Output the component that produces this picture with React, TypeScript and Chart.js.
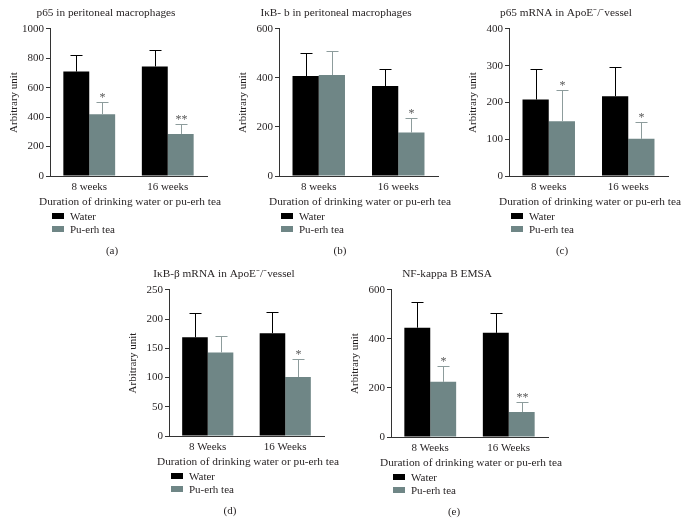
import React, { useEffect, useRef } from 'react';
import { Chart, registerables } from 'chart.js';

Chart.register(...registerables);

const FONT = "'Liberation Serif', 'Times New Roman', serif";
const TEXT = '#231f20';
const AXIS = '#333333';
const WATER = '#000000';
const TEA = '#6f8686';
const TEA_ERR = '#8d9c9c';
const MARK = '#555555';

// shared labels
const weeksLower = ['8 weeks', '16 weeks'];
const weeksUpper = ['8 Weeks', '16 Weeks'];
const seriesNames = ['Water', 'Pu-erh tea'];
const xAxisTitle = 'Duration of drinking water or pu-erh tea';
const yAxisTitle = 'Arbitrary unit';

// (a) p65 in peritoneal macrophages
const aWater = [710, 745];
const aWaterSD = [115, 112];
const aTea = [420, 286];
const aTeaSD = [80, 66];
const aMarks = ['*', '**'];

// (b) IκB-b in peritoneal macrophages
const bWater = [408, 367];
const bWaterSD = [92, 71];
const bTea = [412, 177];
const bTeaSD = [97, 60];
const bMarks = ['', '*'];

// (c) p65 mRNA in ApoE-/- vessel
const cWater = [208, 217];
const cWaterSD = [82, 80];
const cTea = [149, 101];
const cTeaSD = [84, 46];
const cMarks = ['*', '*'];

// (d) IκB-β mRNA in ApoE-/- vessel
const dWater = [169, 176];
const dWaterSD = [41, 36];
const dTea = [143, 101];
const dTeaSD = [28, 31];
const dMarks = ['', '*'];

// (e) NF-kappa B EMSA
const eWater = [446, 425];
const eWaterSD = [104, 80];
const eTea = [225, 102];
const eTeaSD = [64, 41];
const eMarks = ['*', '**'];

type PanelSpec = {
  id: string;
  title: string;
  labels: string[];
  water: number[];
  waterSD: number[];
  tea: number[];
  teaSD: number[];
  marks: string[];
  ymax: number;
  step: number;
  // layout (page pixels)
  left: number;
  right: number;
  top: number;
  bottom: number;
  titleCx: number;
  tagCx: number;
};

const panels: PanelSpec[] = [
  { id: '(a)', title: 'p65 in peritoneal macrophages', labels: weeksLower, water: aWater, waterSD: aWaterSD, tea: aTea, teaSD: aTeaSD, marks: aMarks, ymax: 1000, step: 200, left: 50, right: 207, top: 29, bottom: 176, titleCx: 124, tagCx: 112 },
  { id: '(b)', title: 'IκB- b in peritoneal macrophages', labels: weeksLower, water: bWater, waterSD: bWaterSD, tea: bTea, teaSD: bTeaSD, marks: bMarks, ymax: 600, step: 200, left: 279, right: 438, top: 29, bottom: 176, titleCx: 358, tagCx: 340 },
  { id: '(c)', title: 'p65 mRNA in ApoE⁻/⁻vessel', labels: weeksLower, water: cWater, waterSD: cWaterSD, tea: cTea, teaSD: cTeaSD, marks: cMarks, ymax: 400, step: 100, left: 509, right: 668, top: 29, bottom: 176, titleCx: 585, tagCx: 562 },
  { id: '(d)', title: 'IκB-β mRNA in ApoE⁻/⁻vessel', labels: weeksUpper, water: dWater, waterSD: dWaterSD, tea: dTea, teaSD: dTeaSD, marks: dMarks, ymax: 250, step: 50, left: 169, right: 324, top: 290, bottom: 436, titleCx: 243, tagCx: 230 },
  { id: '(e)', title: 'NF-kappa B EMSA', labels: weeksUpper, water: eWater, waterSD: eWaterSD, tea: eTea, teaSD: eTeaSD, marks: eMarks, ymax: 600, step: 200, left: 391, right: 548, top: 290, bottom: 437, titleCx: 466, tagCx: 454 },
];

const Y_W = 45;
const TOP_H = 29;
const X_H = 34;
const BOT_H = X_H + 4;

const errorBarPlugin = {
  id: 'errorBars',
  afterDatasetsDraw(chart: any) {
    const { ctx } = chart;
    const yScale = chart.scales.y;
    chart.data.datasets.forEach((ds: any, i: number) => {
      const meta = chart.getDatasetMeta(i);
      meta.data.forEach((bar: any, j: number) => {
        const v = ds.data[j];
        const topPx = Math.round(yScale.getPixelForValue(v + ds.sd[j])) + 0.5;
        const x = Math.round(bar.x) + 0.5;
        ctx.save();
        ctx.strokeStyle = ds.errColor;
        ctx.lineWidth = 1;
        ctx.beginPath();
        ctx.moveTo(x, bar.y);
        ctx.lineTo(x, topPx);
        ctx.moveTo(x - 6, topPx);
        ctx.lineTo(x + 6, topPx);
        ctx.stroke();
        const m = ds.marks && ds.marks[j];
        if (m) {
          ctx.fillStyle = MARK;
          ctx.font = `12px ${FONT}`;
          ctx.textAlign = 'center';
          ctx.textBaseline = 'alphabetic';
          ctx.fillText(m, x, topPx - 2);
        }
        ctx.restore();
      });
    });
  },
};

// x-axis title drawn at its natural width (Chart.js would squeeze it to the axis width)
const xTitlePlugin = {
  id: 'xTitle',
  afterDraw(chart: any) {
    const { ctx, chartArea } = chart;
    const text = chart.options.plugins.xTitle?.text;
    if (!text) return;
    ctx.save();
    ctx.fillStyle = TEXT;
    ctx.font = `11.3px ${FONT}`;
    ctx.textAlign = 'center';
    ctx.textBaseline = 'middle';
    ctx.fillText(text, (chartArea.left + chartArea.right) / 2 + 1.5, chartArea.bottom + 26);
    ctx.restore();
  },
};

function Panel({ p }: { p: PanelSpec }) {
  const ref = useRef<HTMLCanvasElement | null>(null);
  const canvasLeft = p.left - Y_W;
  const canvasTop = p.top - TOP_H;
  const canvasW = Math.round(2 * (p.titleCx - canvasLeft));
  const canvasH = TOP_H + (p.bottom - p.top) + BOT_H;
  const padRight = canvasLeft + canvasW - p.right;

  useEffect(() => {
    if (!ref.current) return;
    const font = { family: FONT, size: 11, weight: 'normal' as const };
    const titleFont = { family: FONT, size: 11.3, weight: 'normal' as const };
    const chart = new Chart(ref.current, {
      type: 'bar',
      data: {
        labels: p.labels,
        datasets: [
          { label: seriesNames[0], data: p.water, backgroundColor: WATER, borderWidth: 0, barPercentage: 1, categoryPercentage: 0.66, sd: p.waterSD, marks: [], errColor: '#000000' } as any,
          { label: seriesNames[1], data: p.tea, backgroundColor: TEA, borderWidth: 0, barPercentage: 1, categoryPercentage: 0.66, sd: p.teaSD, marks: p.marks, errColor: TEA_ERR } as any,
        ],
      },
      options: {
        animation: false,
        responsive: false,
        devicePixelRatio: 1,
        layout: { padding: { left: 0, right: padRight, top: 0, bottom: 4 } },
        plugins: {
          legend: { display: false },
          tooltip: { enabled: false },
          title: { display: true, text: p.title, color: TEXT, font: titleFont, padding: { top: 6.2, bottom: 9.2 } },
          xTitle: { text: xAxisTitle },
        } as any,
        scales: {
          x: {
            grid: { display: false, drawTicks: false, tickLength: 0 },
            border: { display: true, color: AXIS, width: 1 },
            ticks: { color: TEXT, font, padding: 4.4, maxRotation: 0, autoSkip: false },
            afterFit: (s: any) => { s.height = X_H; },
          },
          y: {
            min: 0,
            max: p.ymax,
            ticks: { stepSize: p.step, color: TEXT, font, padding: 2, callback: (v: any) => String(v) },
            grid: { drawOnChartArea: false, drawTicks: true, tickLength: 4, color: AXIS },
            border: { display: true, color: AXIS, width: 1 },
            title: { display: true, text: yAxisTitle, color: TEXT, font, padding: { top: 2.4, bottom: 0 } },
            afterFit: (s: any) => { s.width = Y_W; },
          },
        },
      },
      plugins: [errorBarPlugin, xTitlePlugin],
    });
    return () => chart.destroy();
  }, []);

  const textStyle: React.CSSProperties = { fontFamily: FONT, fontSize: 11, color: TEXT, lineHeight: '14px', whiteSpace: 'nowrap' };
  const legendColors = [WATER, TEA];

  return (
    <>
      <canvas
        ref={ref}
        width={canvasW}
        height={canvasH}
        style={{ position: 'absolute', left: canvasLeft, top: canvasTop, width: canvasW, height: canvasH }}
      />
      {seriesNames.map((name, i) => (
        <div key={name} style={{ ...textStyle, position: 'absolute', left: p.left + 2, top: p.bottom + 40 + i * 13 - 7, display: 'flex', alignItems: 'center' }}>
          <span style={{ display: 'inline-block', width: 12, height: 6, background: legendColors[i], marginRight: 6 }} />
          <span>{name}</span>
        </div>
      ))}
      <div style={{ ...textStyle, position: 'absolute', left: p.tagCx, top: p.bottom + 74 - 7, transform: 'translateX(-50%)' }}>{p.id}</div>
    </>
  );
}

export default function App() {
  return (
    <div style={{ position: 'absolute', left: 0, top: 0, width: 687, height: 532, overflow: 'hidden', background: '#ffffff' }}>
      {panels.map((p) => (
        <Panel key={p.id} p={p} />
      ))}
    </div>
  );
}
